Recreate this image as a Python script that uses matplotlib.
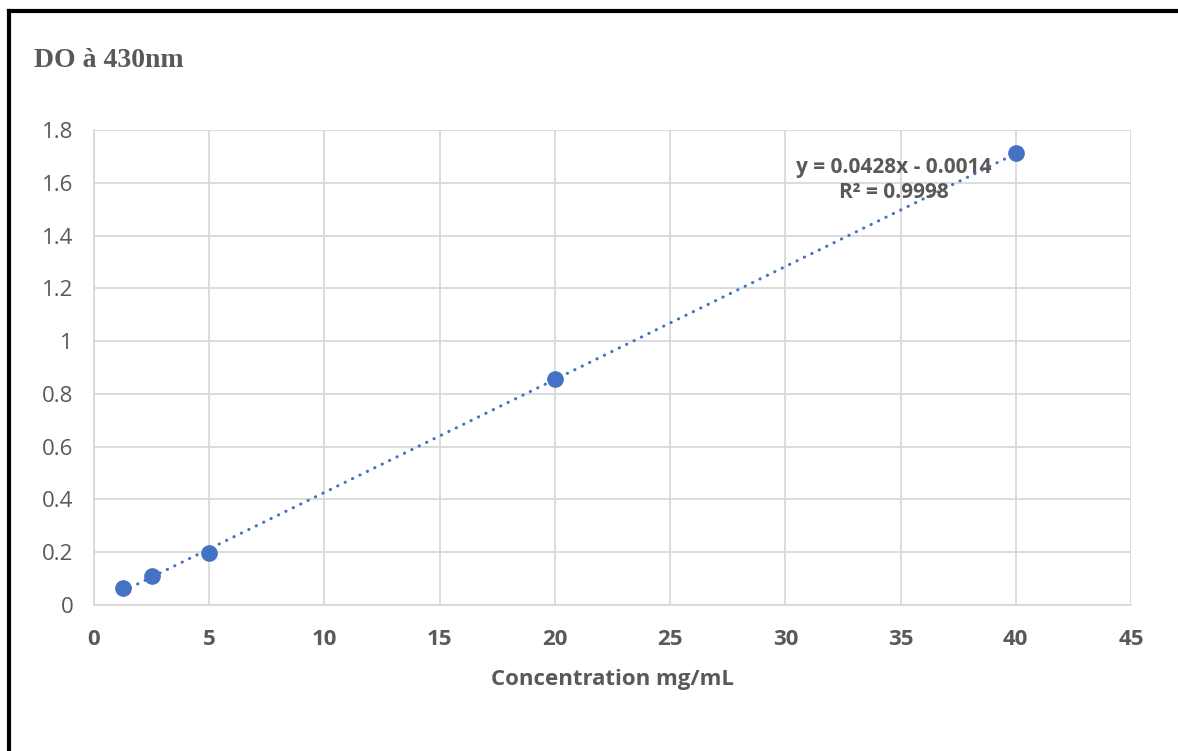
import numpy as np
import matplotlib
matplotlib.use('Agg')
import matplotlib.pyplot as plt
from matplotlib.lines import Line2D

# data
conc = [1.25, 2.5, 5, 20, 40]           # mg/mL
absorb = [0.063, 0.110, 0.196, 0.856, 1.712]
slope, intercept = 0.0428, -0.0014
r2 = 0.9998

x_ticks = [0, 5, 10, 15, 20, 25, 30, 35, 40, 45]
y_ticks = [0, 0.2, 0.4, 0.6, 0.8, 1, 1.2, 1.4, 1.6, 1.8]
y_labels = ['0', '0.2', '0.4', '0.6', '0.8', '1', '1.2', '1.4', '1.6', '1.8']

BLUE = '#4472C4'
GREY = '#595959'
GRID = '#D9D9D9'

plt.rcParams['font.family'] = ['Open Sans', 'DejaVu Sans']

W, H = 1178, 751
fig = plt.figure(figsize=(W / 100, H / 100), dpi=100)
ax = fig.add_axes([94 / W, 1 - 605 / H, (1131 - 94) / W, (605 - 130) / H])

# trendline, drawn from fitted equation over the data range
xt = np.array([min(conc), max(conc)])
ax.plot(xt, slope * xt + intercept, color=BLUE, lw=2.2,
        linestyle=(0, (0.1, 2.6)), dash_capstyle='round', zorder=3)
ax.plot(conc, absorb, 'o', color=BLUE, ms=11, zorder=4, clip_on=False)

ax.set_xlim(0, 45); ax.set_ylim(0, 1.8)
ax.set_xticks(x_ticks)
ax.set_yticks(y_ticks)
ax.set_yticklabels(y_labels)
ax.grid(True, color=GRID, lw=1.3)
ax.set_axisbelow(True)
for s in ax.spines.values():
    s.set_visible(False)
ax.spines['left'].set_visible(True); ax.spines['left'].set_color(GRID)
ax.spines['bottom'].set_visible(True); ax.spines['bottom'].set_color(GRID)
ax.spines['left'].set_linewidth(1.3); ax.spines['bottom'].set_linewidth(1.3)
ax.tick_params(axis='y', length=0, pad=15, labelsize=16, labelcolor=GREY)
ax.tick_params(axis='x', length=0, pad=17, labelsize=16, labelcolor=GREY)
for t in ax.get_xticklabels():
    t.set_fontweight('bold')
ax.set_xlabel('Concentration mg/mL', fontsize=16, fontweight='bold',
              color=GREY, labelpad=14)

ax.text(34.7, 1.61, f'y = {slope}x - {abs(intercept)}\nR² = {r2}',
        ha='center', va='center', fontsize=15, fontweight='bold',
        color=GREY, linespacing=1.25, zorder=5)

fig.text(34 / W, 1 - 67 / H, 'DO à 430nm', fontsize=20, fontweight='bold',
         color=GREY, family='Liberation Serif', va='baseline')

# frame lines (top and left only visible in the crop)
fig.add_artist(Line2D([9 / W, 1], [1 - 11 / H, 1 - 11 / H], color='black',
                      lw=3, transform=fig.transFigure))
fig.add_artist(Line2D([9 / W, 9 / W], [0, 1 - 11 / H], color='black',
                      lw=3, transform=fig.transFigure, solid_capstyle='projecting'))

fig.savefig('out.png', dpi=100)
